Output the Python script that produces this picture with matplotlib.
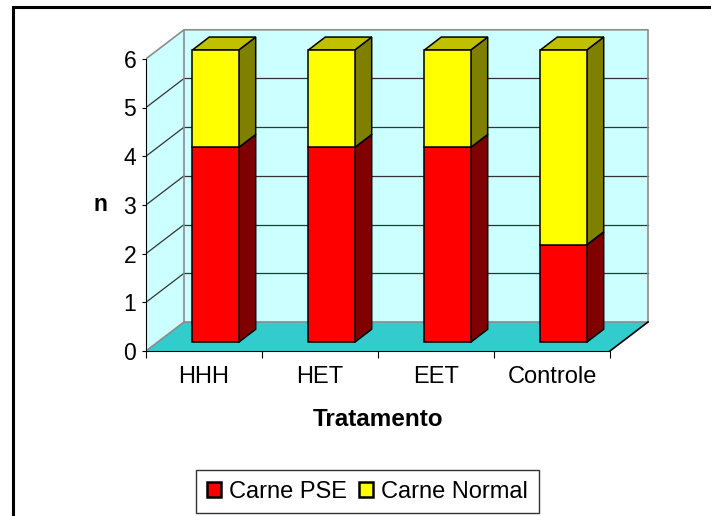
import matplotlib
matplotlib.use("Agg")
import matplotlib.pyplot as plt
from matplotlib.patches import Polygon, Patch, Rectangle

plt.rcParams['font.family'] = ['Liberation Sans', 'DejaVu Sans']

categorias = ["HHH", "HET", "EET", "Controle"]
carne_pse = [4, 4, 4, 2]
carne_normal = [2, 2, 2, 4]
series = [("Carne PSE", carne_pse, "#ff0000", "#800000", "#a00000"),
          ("Carne Normal", carne_normal, "#ffff00", "#808000", "#c0c000")]

# falso 3D (profundidade em unidades de dados)
dx, dy = 0.3276, 0.5955
f1, f2 = 0.30, 0.75
larg = 0.4
ymax = 6
n = len(categorias)

fig = plt.figure(figsize=(7.11, 5.16), dpi=100)
ax = fig.add_axes([146 / 711, 165 / 516, 514 / 711, 331 / 516])
ax.set_xlim(0, 514 / 116)
ax.set_ylim(0, 331 / 48.7)

# paredes e piso
ax.add_patch(Polygon([(dx, dy), (n + dx, dy), (n + dx, ymax + dy), (dx, ymax + dy)],
                     closed=True, fc="#ccffff", ec="none", zorder=0))
ax.add_patch(Polygon([(0, 0), (dx, dy), (dx, ymax + dy), (0, ymax)],
                     closed=True, fc="#ccffff", ec="none", zorder=0))
ax.add_patch(Polygon([(0, 0), (n, 0), (n + dx, dy), (dx, dy)],
                     closed=True, fc="#33cccc", ec="none", zorder=0))

for k in range(1, ymax):
    ax.plot([dx, n + dx], [k + dy, k + dy], color="#333333", lw=0.9, zorder=1)
    ax.plot([0, dx], [k, k + dy], color="#333333", lw=0.9, zorder=1)

cinza = "#8c8c8c"
ax.plot([0, dx, n + dx, n + dx], [ymax, ymax + dy, ymax + dy, dy], color=cinza, lw=1.2, zorder=1)
ax.plot([dx, dx], [dy, ymax + dy], color=cinza, lw=1.2, zorder=1)
ax.plot([0, dx, n + dx], [0, dy, dy], color=cinza, lw=1.2, zorder=1)
ax.plot([n, n + dx], [0, dy], color="black", lw=1.2, zorder=1)

# barras empilhadas
base = [0] * n
for nome, vals, cor, lado, topo in series:
    for i, v in enumerate(vals):
        x0 = i + 0.5 - larg / 2 + f1 * dx
        y0 = base[i] + f1 * dy
        x1 = x0 + larg
        y1 = y0 + v
        sx, sy = (f2 - f1) * dx, (f2 - f1) * dy
        ax.add_patch(Polygon([(x1, y0), (x1 + sx, y0 + sy), (x1 + sx, y1 + sy), (x1, y1)],
                             closed=True, fc=lado, ec="black", lw=1.1, zorder=3))
        ax.add_patch(Polygon([(x0, y1), (x1, y1), (x1 + sx, y1 + sy), (x0 + sx, y1 + sy)],
                             closed=True, fc=topo, ec="black", lw=1.1, zorder=3))
    ax.bar([i + 0.5 + f1 * dx for i in range(n)], vals, width=larg,
           bottom=[b + f1 * dy for b in base], color=cor, edgecolor="black",
           linewidth=1.1, zorder=4)
    base = [b + v for b, v in zip(base, vals)]

# eixos
for s in ["top", "right"]:
    ax.spines[s].set_visible(False)
ax.spines["left"].set_bounds(0, ymax)
ax.spines["bottom"].set_bounds(0, n)
ax.spines["left"].set_zorder(5)
ax.spines["bottom"].set_zorder(5)
ax.set_yticks(range(ymax + 1))
ax.tick_params(axis="y", length=3, pad=4, labelsize=16.5)
ax.set_xticks(range(n + 1))
ax.set_xticklabels([""] * (n + 1))
ax.set_xticks([i + 0.5 for i in range(n)], minor=True)
ax.set_xticklabels(categorias, minor=True)
ax.tick_params(axis="x", which="major", length=5)
ax.tick_params(axis="x", which="minor", length=0, pad=11, labelsize=17)

ax.set_ylabel("n", rotation=0, fontsize=16.5, fontweight="bold", ha="center", va="center")
ax.yaxis.set_label_coords(-0.0895, 3 / ax.get_ylim()[1])
ax.set_xlabel("Tratamento", fontsize=17.5, fontweight="bold", ha="center", va="center")
ax.xaxis.set_label_coords(232 / 514, -69 / 331)

handles = [Patch(facecolor=c, edgecolor="black", linewidth=1.8, label=nm)
           for nm, _, c, _, _ in series]
leg = fig.legend(handles=handles, loc="center", bbox_to_anchor=(367.5 / 711, 24.5 / 516),
                 ncol=2, fontsize=17, frameon=True, fancybox=False, handlelength=0.6,
                 handleheight=0.6, handletextpad=0.35, columnspacing=0.5,
                 borderpad=0.45, edgecolor="black")
leg.get_frame().set_linewidth(1.0)

fig.patches.append(Rectangle((13 / 711, -0.05), 1.1, 1 - 7 / 516 + 0.05,
                             transform=fig.transFigure, fill=False, ec="black", lw=2.2))

fig.savefig("out.png", dpi=100)
